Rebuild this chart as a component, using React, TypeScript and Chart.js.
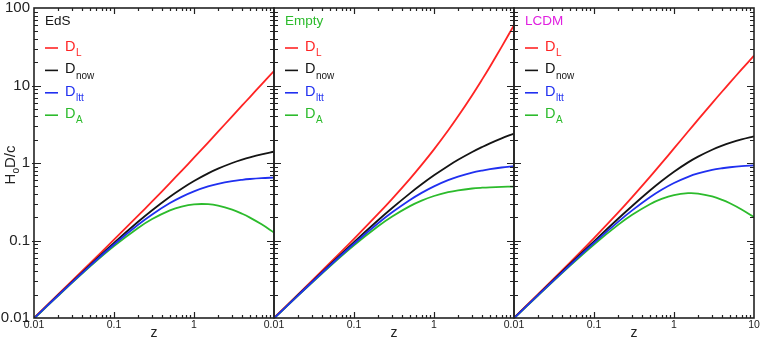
import React, { useEffect, useRef } from "react";
import { Chart, registerables } from "chart.js";
Chart.register(...registerables);

// ---- data ----
const zValues = [0.01, 0.02, 0.05, 0.1, 0.2, 0.3, 0.5, 0.7, 1, 1.5, 2, 3, 4, 5, 7, 10];

const edsDL = [0.01003, 0.0201, 0.05061, 0.1024, 0.2091, 0.3196, 0.5505, 0.7923, 1.172, 1.838, 2.536, 4.0, 5.528, 7.101, 10.34, 15.37];
const edsDnow = [0.009926, 0.0197, 0.0482, 0.09307, 0.1743, 0.2459, 0.367, 0.4661, 0.5858, 0.7351, 0.8453, 1.0, 1.106, 1.184, 1.293, 1.397];
const edsDltt = [0.009877, 0.01951, 0.04705, 0.08881, 0.1595, 0.2169, 0.3038, 0.3659, 0.431, 0.498, 0.5384, 0.5833, 0.607, 0.6213, 0.6372, 0.6484];
const edsDA = [0.009828, 0.01932, 0.04591, 0.08461, 0.1452, 0.1891, 0.2447, 0.2742, 0.2929, 0.294, 0.2818, 0.25, 0.2211, 0.1973, 0.1616, 0.127];

const emptyDL = [0.01005, 0.0202, 0.05125, 0.105, 0.22, 0.345, 0.625, 0.945, 1.5, 2.625, 4.0, 7.5, 12.0, 17.5, 31.5, 60.0];
const emptyDnow = [0.00995, 0.0198, 0.04879, 0.09531, 0.1823, 0.2624, 0.4055, 0.5306, 0.6931, 0.9163, 1.099, 1.386, 1.609, 1.792, 2.079, 2.398];
const emptyDltt = [0.009901, 0.01961, 0.04762, 0.09091, 0.1667, 0.2308, 0.3333, 0.4118, 0.5, 0.6, 0.6667, 0.75, 0.8, 0.8333, 0.875, 0.9091];
const emptyDA = [0.009852, 0.01942, 0.04649, 0.08678, 0.1528, 0.2041, 0.2778, 0.327, 0.375, 0.42, 0.4444, 0.4688, 0.48, 0.4861, 0.4922, 0.4959];

const lcdmDL = [0.01008, 0.02031, 0.0519, 0.1075, 0.2288, 0.3626, 0.6615, 0.9946, 1.543, 2.547, 3.628, 5.936, 8.371, 10.89, 16.12, 24.25];
const lcdmDnow = [0.009978, 0.01991, 0.04943, 0.09771, 0.1907, 0.2789, 0.441, 0.5851, 0.7714, 1.019, 1.209, 1.484, 1.674, 1.816, 2.015, 2.204];
const lcdmDltt = [0.009928, 0.01971, 0.04824, 0.09316, 0.1741, 0.2447, 0.3609, 0.4511, 0.5523, 0.6634, 0.7331, 0.8129, 0.8556, 0.8814, 0.9103, 0.9307];
const lcdmDA = [0.009879, 0.01952, 0.04708, 0.08883, 0.1589, 0.2145, 0.294, 0.3442, 0.3857, 0.4076, 0.4032, 0.371, 0.3349, 0.3026, 0.2518, 0.2004];

const seriesMain = ["D", "D", "D", "D"];
const seriesSub = ["L", "now", "ltt", "A"];
const panelNames = ["EdS", "Empty", "LCDM"];
const xTickLabels = ["0.01", "0.1", "1", "10"];
const yTickLabels = ["0.01", "0.1", "1", "10", "100"];
const xTitle = "z";
const yTitleParts = ["H", "o", "D/c"];

const panelSeries = [
  [edsDL, edsDnow, edsDltt, edsDA],
  [emptyDL, emptyDnow, emptyDltt, emptyDA],
  [lcdmDL, lcdmDnow, lcdmDltt, lcdmDA],
];

// ---- styles ----
const seriesColors = ["#ff2424", "#141414", "#2030f0", "#2cbb2c"];
const panelNameColors = ["#141414", "#2cbb2c", "#e020e0"];
const FONT = "'Liberation Sans', Arial, Helvetica, sans-serif";
const W = 761;
const H = 340;
const PLOT_LEFT0 = 34;
const PLOT_W = 240;
const PLOT_TOP = 8;
const XAXIS_H = 22;

function isDecade(v: number) {
  const l = Math.log10(v);
  return Math.abs(l - Math.round(l)) < 1e-6;
}

function makePlugin(index: number) {
  return {
    id: "frameAndLegend" + index,
    afterDatasetsDraw(chart: any) {
      const { ctx, chartArea: a, scales } = chart;
      const xs = scales.x;
      const ys = scales.y;
      ctx.save();
      // frame
      ctx.strokeStyle = "#222";
      ctx.lineWidth = 1.6;
      ctx.strokeRect(a.left, a.top, a.right - a.left, a.bottom - a.top);
      // ticks
      ctx.lineWidth = 1.2;
      ctx.beginPath();
      for (let e = -2; e <= 0; e++) {
        for (let m = 1; m <= 9; m++) {
          const v = m * Math.pow(10, e);
          if (v <= 0.01 + 1e-9 || v >= 10 - 1e-9) continue;
          const major = m === 1;
          const len = major ? 6 : 3;
          const px = Math.round(xs.getPixelForValue(v)) + 0.5;
          ctx.moveTo(px, a.bottom);
          ctx.lineTo(px, a.bottom - len);
          ctx.moveTo(px, a.top);
          ctx.lineTo(px, a.top + len);
        }
      }
      for (let e = -2; e <= 1; e++) {
        for (let m = 1; m <= 9; m++) {
          const v = m * Math.pow(10, e);
          if (v <= 0.01 + 1e-9 || v >= 100 - 1e-9) continue;
          const major = m === 1;
          const len = major ? 7 : 4;
          const py = Math.round(ys.getPixelForValue(v)) + 0.5;
          ctx.moveTo(a.left - (major ? 2 : 0), py);
          ctx.lineTo(a.left + len, py);
          ctx.moveTo(a.right, py);
          ctx.lineTo(a.right - len, py);
        }
      }
      ctx.stroke();

      // panel title
      const lx = a.left + 11;
      ctx.textBaseline = "middle";
      ctx.textAlign = "left";
      ctx.font = `13.5px ${FONT}`;
      ctx.fillStyle = panelNameColors[index];
      ctx.fillText(panelNames[index], lx, 21);

      // legend
      const rowY0 = 47.5;
      const rowDy = 22.4;
      for (let i = 0; i < seriesSub.length; i++) {
        const y = rowY0 + i * rowDy;
        const c = seriesColors[i];
        ctx.strokeStyle = c;
        ctx.lineWidth = 1.6;
        ctx.beginPath();
        ctx.moveTo(lx, y + 0.5);
        ctx.lineTo(lx + 13, y + 0.5);
        ctx.stroke();
        ctx.fillStyle = c;
        ctx.font = `14.5px ${FONT}`;
        ctx.fillText(seriesMain[i], lx + 20, y - 0.5);
        const dw = ctx.measureText(seriesMain[i]).width;
        ctx.font = `10px ${FONT}`;
        ctx.fillText(seriesSub[i], lx + 20 + dw + 0.5, y + 6);
      }

      // x title
      ctx.fillStyle = "#222";
      ctx.font = `14px ${FONT}`;
      ctx.textAlign = "center";
      ctx.fillText(xTitle, (a.left + a.right) / 2, 333);

      // y title
      if (index === 0) {
        ctx.save();
        ctx.translate(11, (a.top + a.bottom) / 2 + 2);
        ctx.rotate(-Math.PI / 2);
        ctx.textAlign = "left";
        ctx.font = `15px ${FONT}`;
        const w0 = ctx.measureText(yTitleParts[0]).width;
        const w2 = ctx.measureText(yTitleParts[2]).width;
        ctx.font = `10px ${FONT}`;
        const w1 = ctx.measureText(yTitleParts[1]).width;
        const total = w0 + w1 + w2;
        let x = -total / 2;
        ctx.font = `15px ${FONT}`;
        ctx.fillText(yTitleParts[0], x, 0);
        x += w0;
        ctx.font = `10px ${FONT}`;
        ctx.fillText(yTitleParts[1], x, 5);
        x += w1;
        ctx.font = `15px ${FONT}`;
        ctx.fillText(yTitleParts[2], x, 0);
        ctx.restore();
      }
      ctx.restore();
    },
  };
}

function makeConfig(index: number): any {
  const left = PLOT_LEFT0 + PLOT_W * index;
  const right = left + PLOT_W;
  const series = panelSeries[index];
  return {
    type: "line",
    data: {
      datasets: series.map((arr, i) => ({
        label: seriesMain[i] + seriesSub[i],
        data: zValues.map((z, k) => ({ x: z, y: arr[k] })),
        borderColor: seriesColors[i],
        backgroundColor: seriesColors[i],
        borderWidth: 1.8,
        pointRadius: 0,
        fill: false,
        tension: 0.35,
        order: [3, 2, 0, 1][i],
      })),
    },
    options: {
      animation: false,
      responsive: false,
      maintainAspectRatio: false,
      events: [],
      layout: {
        padding: { left: index === 0 ? 0 : left, right: W - right, top: PLOT_TOP, bottom: 0 },
      },
      plugins: { legend: { display: false }, tooltip: { enabled: false }, title: { display: false } },
      scales: {
        x: {
          type: "logarithmic",
          min: 0.01,
          max: 10,
          grid: { display: false, drawTicks: false },
          border: { display: false },
          ticks: {
            autoSkip: false,
            maxRotation: 0,
            minRotation: 0,
            padding: 1,
            color: "#222",
            font: { family: FONT, size: 10.5 },
            callback: (v: number) => {
              if (!isDecade(v)) return "";
              const k = Math.round(Math.log10(v)) + 2;
              if (k === 3 && index !== 2) return "";
              return xTickLabels[k] ?? "";
            },
          },
          afterFit: (s: any) => {
            s.height = XAXIS_H;
            s.paddingLeft = 0;
            s.paddingRight = 0;
            s.paddingTop = 0;
            s.paddingBottom = 0;
          },
        },
        y: {
          type: "logarithmic",
          min: 0.01,
          max: 100,
          display: index === 0,
          grid: { display: false, drawTicks: false },
          border: { display: false },
          ticks: {
            autoSkip: false,
            padding: 4,
            color: "#222",
            font: { family: FONT, size: 15 },
            callback: (v: number) => {
              if (!isDecade(v)) return "";
              const k = Math.round(Math.log10(v)) + 2;
              return yTickLabels[k] ?? "";
            },
          },
          afterFit: (s: any) => {
            s.width = index === 0 ? PLOT_LEFT0 : 0;
            s.paddingLeft = 0;
            s.paddingRight = 0;
            s.paddingTop = 0;
            s.paddingBottom = 0;
          },
        },
      },
    },
    plugins: [makePlugin(index)],
  };
}

function Panel({ index }: { index: number }) {
  const ref = useRef<HTMLCanvasElement>(null);
  useEffect(() => {
    const chart = new Chart(ref.current as HTMLCanvasElement, makeConfig(index));
    return () => chart.destroy();
  }, [index]);
  return (
    <canvas
      ref={ref}
      width={W}
      height={H}
      style={{ position: "absolute", left: 0, top: 0, width: W, height: H }}
    />
  );
}

export default function App() {
  return (
    <div style={{ position: "fixed", left: 0, top: 0, width: W, height: H, background: "#fff" }}>
      <Panel index={0} />
      <Panel index={1} />
      <Panel index={2} />
    </div>
  );
}
